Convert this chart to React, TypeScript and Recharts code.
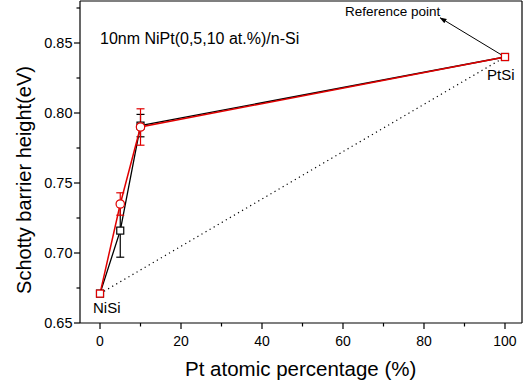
import React from "react";
import { ComposedChart, Line, XAxis, YAxis, ErrorBar, ReferenceLine } from "recharts";

// Pt content (at.%)
const ptPercent = [0, 5, 10, 100];
// black series (squares) and its error
const blackSbh = [0.671, 0.716, 0.791, 0.84];
const blackErr = [null, 0.019, 0.008, null];
// red series (circles) and its error
const redSbh = [0.671, 0.735, 0.79, 0.84];
const redErr = [null, 0.008, 0.013, null];
// dotted reference line NiSi -> PtSi
const refX = [0, 100];
const refY = [0.671, 0.84];
// arrow from PtSi point to "Reference point" label
const arrowX = [100, 84.0];
const arrowY = [0.84, 0.868];

const xTicks = [0, 10, 20, 30, 40, 50, 60, 70, 80, 90, 100];
const yTicks = [0.65, 0.675, 0.7, 0.725, 0.75, 0.775, 0.8, 0.825, 0.85, 0.875];

const X_DOMAIN: [number, number] = [-4.94, 104.2];
const Y_DOMAIN: [number, number] = [0.65, 0.88];

const FONT = "'Liberation Sans', Arial, sans-serif";

const blackData = ptPercent.map((x, i) => ({ x, y: blackSbh[i], err: blackErr[i] }));
const redData = ptPercent.map((x, i) => ({ x, y: redSbh[i], err: redErr[i] }));
const refData = refX.map((x, i) => ({ x, y: refY[i] }));
const arrowData = arrowX.map((x, i) => ({ x, y: arrowY[i] }));

const SquareDot = (props: any) => {
  const { cx, cy, stroke } = props;
  if (cx == null || cy == null) return null;
  return <rect x={cx - 3.5} y={cy - 3.5} width={7} height={7} fill="#fff" stroke={stroke} strokeWidth={1.2} />;
};

const RedDot = (props: any) => {
  const { cx, cy, payload } = props;
  if (cx == null || cy == null) return null;
  if (payload.x === 0 || payload.x === 100) {
    return <rect x={cx - 3.5} y={cy - 3.5} width={7} height={7} fill="#fff" stroke="#e00000" strokeWidth={1.2} />;
  }
  return <circle cx={cx} cy={cy} r={4.2} fill="#fff" stroke="#e00000" strokeWidth={1.2} />;
};

const XTick = (props: any) => {
  const { x, y, payload } = props;
  const major = payload.value % 20 === 0;
  return (
    <g>
      <line x1={x} x2={x} y1={y} y2={y + (major ? 6 : 3.5)} stroke="#000" strokeWidth={1.2} />
      {major && (
        <text x={x} y={y + 23} textAnchor="middle" fontSize={14} fontFamily={FONT} fill="#000">
          {payload.value}
        </text>
      )}
    </g>
  );
};

const YTick = (props: any) => {
  const { x, y, payload } = props;
  const major = Math.round(payload.value * 1000) % 50 === 0;
  return (
    <g>
      <line x1={x - (major ? 6 : 3.5)} x2={x} y1={y} y2={y} stroke="#000" strokeWidth={1.2} />
      {major && (
        <text x={x - 7.5} y={y + 5} textAnchor="end" fontSize={14.5} fontFamily={FONT} fill="#000">
          {payload.value.toFixed(2)}
        </text>
      )}
    </g>
  );
};

const textStyle: React.CSSProperties = { position: "absolute", fontFamily: FONT, color: "#000", whiteSpace: "nowrap", lineHeight: 1 };

export default function App() {
  return (
    <div style={{ position: "absolute", left: 0, top: 0, width: 527, height: 387, background: "#fff" }}>
      <svg width={0} height={0} style={{ position: "absolute" }}>
        <defs>
          <marker id="arrowHead" viewBox="0 0 10 10" refX="9" refY="5" markerWidth="7" markerHeight="7" orient="auto">
            <path d="M0,1.5 L10,5 L0,8.5 Z" fill="#000" />
          </marker>
        </defs>
      </svg>
      <ComposedChart width={527} height={387} margin={{ top: 1, right: 5, left: 0, bottom: 0 }}>
        <XAxis
          type="number"
          dataKey="x"
          domain={X_DOMAIN}
          ticks={xTicks}
          allowDataOverflow
          height={64}
          tickSize={0}
          tickMargin={0}
          tickLine={false}
          tick={<XTick />}
          stroke="#000"
          strokeWidth={1.2}
          interval={0}
        />
        <YAxis
          type="number"
          dataKey="y"
          domain={Y_DOMAIN}
          ticks={yTicks}
          allowDataOverflow
          width={80}
          tickSize={0}
          tickMargin={0}
          tickLine={false}
          tick={<YTick />}
          stroke="#000"
          strokeWidth={1.2}
          interval={0}
        />
        <ReferenceLine y={0.88} stroke="#000" strokeWidth={1.2} />
        <ReferenceLine x={104.2} stroke="#000" strokeWidth={1.2} />
        <Line
          data={refData}
          dataKey="y"
          stroke="#000"
          strokeWidth={1.2}
          strokeDasharray="1.2 3.5"
          dot={false}
          isAnimationActive={false}
        />
        <Line
          data={arrowData}
          dataKey="y"
          stroke="#000"
          strokeWidth={1}
          dot={false}
          markerEnd="url(#arrowHead)"
          isAnimationActive={false}
        />
        <Line
          data={blackData}
          dataKey="y"
          stroke="#000"
          strokeWidth={1.3}
          dot={<SquareDot />}
          isAnimationActive={false}
        >
          <ErrorBar dataKey="err" direction="y" width={4} stroke="#000" strokeWidth={1.2} />
        </Line>
        <Line
          data={redData}
          dataKey="y"
          stroke="#e00000"
          strokeWidth={1.5}
          dot={<RedDot />}
          isAnimationActive={false}
        >
          <ErrorBar dataKey="err" direction="y" width={4} stroke="#e00000" strokeWidth={1.2} />
        </Line>
      </ComposedChart>
      <div style={{ ...textStyle, left: 100, top: 31, fontSize: 16 }}>10nm NiPt(0,5,10 at.%)/n-Si</div>
      <div style={{ ...textStyle, left: 345, top: 5, fontSize: 13.5 }}>Reference point</div>
      <div style={{ ...textStyle, left: 487, top: 67, fontSize: 15 }}>PtSi</div>
      <div style={{ ...textStyle, left: 93, top: 300, fontSize: 15 }}>NiSi</div>
      <div style={{ ...textStyle, left: 185, top: 359, fontSize: 20.5 }}>Pt atomic percentage (%)</div>
      <div
        style={{
          ...textStyle,
          left: 24,
          top: 180,
          fontSize: 20,
          transform: "translate(-50%, -50%) rotate(-90deg)",
        }}
      >
        Schotty barrier height(eV)
      </div>
    </div>
  );
}
